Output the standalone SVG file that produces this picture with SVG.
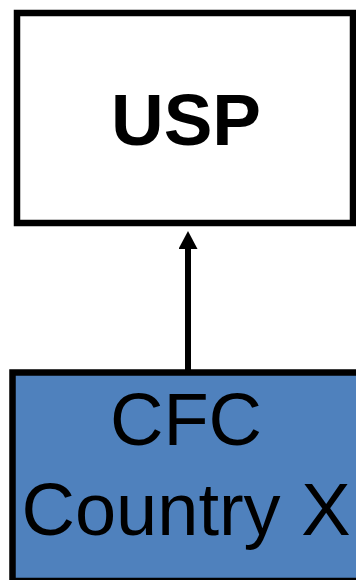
<svg xmlns="http://www.w3.org/2000/svg" width="356" height="580" viewBox="0 0 356 580">
<style>
.box{stroke:#000;stroke-width:6.5}
.lbl{font-family:"Liberation Sans",Arial,sans-serif;text-anchor:middle;fill:#000}
</style>
<defs>
<marker id="ah" markerUnits="userSpaceOnUse" markerWidth="20" markerHeight="19" refX="0" refY="9.5" orient="auto" viewBox="0 0 19 19">
<path d="M0,0 L18,9.5 L0,19 Z" fill="#000"/>
</marker>
</defs>
<rect width="356" height="580" fill="#fff"/>
<g id="connectors">
<line x1="188" y1="370" x2="188" y2="249" stroke="#000" stroke-width="6" marker-end="url(#ah)"/>
</g>
<g id="usp">
<rect class="box" x="17" y="13" width="336" height="210" fill="#fff"/>
<text class="lbl" x="186" y="145" font-size="73" font-weight="bold">USP</text>
</g>
<g id="cfc">
<rect class="box" x="12.5" y="372.5" width="347" height="208.5" fill="#4F81BD"/>
<text class="lbl" x="186" y="445" font-size="74">CFC</text>
<text class="lbl" x="186" y="535" font-size="74">Country X</text>
</g>
</svg>
